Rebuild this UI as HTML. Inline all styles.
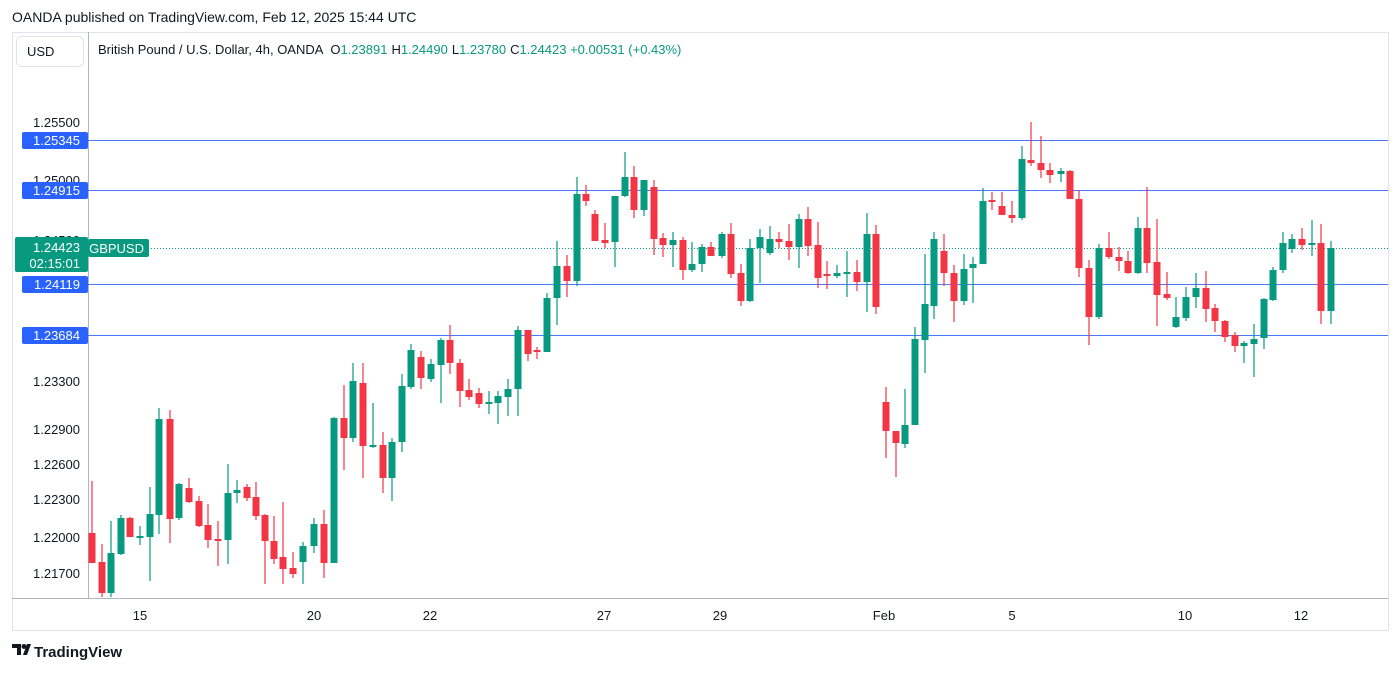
<!DOCTYPE html>
<html><head><meta charset="utf-8"><style>
html,body{margin:0;padding:0;background:#fff;}
body{width:1400px;height:672px;overflow:hidden;font-family:"Liberation Sans",sans-serif;}
</style></head><body>
<svg width="1400" height="672" viewBox="0 0 1400 672" xmlns="http://www.w3.org/2000/svg" font-family="Liberation Sans, sans-serif">
<rect width="1400" height="672" fill="#fff"/>
<text x="12" y="22" font-size="14" fill="#131722">OANDA published on TradingView.com, Feb 12, 2025 15:44 UTC</text>
<rect x="12.5" y="32.5" width="1376" height="598" fill="none" stroke="#e0e3eb"/>
<line x1="88.5" y1="32" x2="88.5" y2="598" stroke="#b2b5be"/>
<line x1="12" y1="598.5" x2="1388" y2="598.5" stroke="#b2b5be"/>
<rect x="16.5" y="36.5" width="67" height="30" rx="5" fill="#fff" stroke="#e0e3eb"/>
<text x="27" y="56" font-size="13" fill="#131722">USD</text>
<text x="98" y="54" font-size="13" fill="#131722">British Pound / U.S. Dollar, 4h, OANDA <tspan dx="4">O</tspan><tspan fill="#089981">1.23891</tspan><tspan dx="4">H</tspan><tspan fill="#089981">1.24490</tspan><tspan dx="4">L</tspan><tspan fill="#089981">1.23780</tspan><tspan dx="4">C</tspan><tspan fill="#089981">1.24423 +0.00531 (+0.43%)</tspan></text>
<g font-size="13" fill="#131722" text-anchor="end">
<text x="80" y="127">1.25500</text>
<text x="80" y="185">1.25000</text>
<text x="80" y="245">1.24500</text>
<text x="80" y="386">1.23300</text>
<text x="80" y="434">1.22900</text>
<text x="80" y="469">1.22600</text>
<text x="80" y="504">1.22300</text>
<text x="80" y="542">1.22000</text>
<text x="80" y="578">1.21700</text>
</g>
<g stroke="#2962ff" stroke-width="1" opacity="0.85">
<line x1="88" y1="140.5" x2="1388" y2="140.5"/>
<line x1="88" y1="190.5" x2="1388" y2="190.5"/>
<line x1="88" y1="284.5" x2="1388" y2="284.5"/>
<line x1="88" y1="335.5" x2="1388" y2="335.5"/>
</g>
<line x1="88" y1="248.5" x2="1388" y2="248.5" stroke="#089981" stroke-dasharray="1,2"/>
<g font-size="13" fill="#fff" text-anchor="end">
<rect x="22" y="132" width="66" height="17" rx="2" fill="#2962ff"/><text x="80" y="145">1.25345</text>
<rect x="22" y="182" width="66" height="17" rx="2" fill="#2962ff"/><text x="80" y="195">1.24915</text>
<rect x="22" y="276" width="66" height="17" rx="2" fill="#2962ff"/><text x="80" y="289">1.24119</text>
<rect x="22" y="327" width="66" height="17" rx="2" fill="#2962ff"/><text x="80" y="340">1.23684</text>
<rect x="15" y="237" width="73" height="35" rx="2" fill="#089981"/><text x="80" y="252">1.24423</text><text x="80" y="268">02:15:01</text>
<rect x="88" y="239" width="61" height="18" rx="2" fill="#089981"/><text x="144" y="253" text-anchor="end">GBPUSD</text>
</g>
<g font-size="13" fill="#131722" text-anchor="middle">
<text x="140" y="620">15</text><text x="314" y="620">20</text><text x="430" y="620">22</text>
<text x="604" y="620">27</text><text x="720" y="620">29</text><text x="884" y="620">Feb</text>
<text x="1012" y="620">5</text><text x="1185" y="620">10</text><text x="1301" y="620">12</text>
</g>
<path stroke="#089981" stroke-width="1.2" fill="none" d="M111 521V597M121 515V555M140 526V545M150 487V581M159 408V534M179 483V520M228 464V564M237 480V503M303 542V584M314 518V553M334 417V563M353 363V442M373 403V448M392 438V501M402 374V452M411 344V389M431 359V382M441 338V403M489 391V414M498 391V424M508 379V416M518 326V416M547 293V352M557 241V325M577 177V286M615 196V267M625 152V197M644 180V216M673 232V267M692 242V272M702 244V272M722 232V258M750 239V302M760 229V283M770 226V255M799 214V268M837 265V278M847 251V297M867 213V312M905 389V448M915 327V425M925 254V373M934 232V319M964 254V305M973 257V303M983 188V264M1022 146V220M1061 168V182M1099 244V319M1138 217V274M1176 297V328M1186 287V321M1196 273V308M1244 341V363M1254 324V377M1264 298V349M1273 267V301M1283 232V273M1292 234V253M1312 220V256M1331 241V324"/>
<path stroke="#089981" stroke-width="7" fill="none" d="M111 553V593M121 518V554M140 536V538M150 514V537M159 419V515M179 484V518M228 493V540M237 490V493M303 546V562M314 524V546M334 418V563M353 381V438M373 445V447M392 442V478M402 386V442M411 350V387M431 364V379M441 340V365M489 402V404M498 396V403M508 389V397M518 330V389M547 298V352M557 266V298M577 194V281M615 196V242M625 177V196M644 180V210M673 240V245M692 264V270M702 247V264M722 234V256M750 248V301M760 237V248M770 239V253M799 219V247M837 273V276M847 272V274M867 234V282M905 425V444M915 339V425M925 304V340M934 239V306M964 269V301M973 264V268M983 201V264M1022 159V218M1061 171V174M1099 248V317M1138 228V273M1176 317V327M1186 297V318M1196 288V297M1244 343V346M1254 339V344M1264 299V338M1273 270V300M1283 243V270M1292 239V249M1312 243V245M1331 248V311"/>
<path stroke="#f23645" stroke-width="1.2" fill="none" d="M92 481V563M102 544V597M130 517V537M170 410V543M189 478V503M199 496V527M208 504V548M218 521V566M247 484V501M256 482V520M265 514V584M274 516V564M283 502V584M293 552V578M324 510V578M344 385V470M363 363V478M383 432V493M421 351V389M450 325V374M460 359V407M469 379V400M479 388V408M528 330V361M537 347V359M567 255V297M586 185V206M595 210V241M605 223V248M634 166V218M654 180V255M663 233V257M683 237V280M711 242V256M731 223V278M741 264V306M779 232V248M789 224V260M808 207V256M818 222V288M827 261V289M857 260V291M876 225V314M886 387V458M896 431V477M944 234V286M954 265V322M992 192V210M1002 192V215M1012 201V223M1031 122V166M1041 136V178M1050 163V183M1070 170V199M1079 190V277M1089 260V345M1109 232V259M1119 247V271M1128 251V274M1147 187V273M1157 219V326M1167 272V300M1206 271V322M1215 304V332M1225 320V342M1235 332V352M1302 228V250M1321 224V324"/>
<path stroke="#f23645" stroke-width="7" fill="none" d="M92 533V563M102 562V593M130 518V537M170 419V519M189 488V502M199 501V526M208 525V540M218 539V541M247 487V498M256 497V516M265 515V541M274 541V559M283 557V569M293 568V574M324 524V563M344 418V438M363 383V446M383 445V478M421 357V378M450 340V363M460 363V391M469 390V397M479 393V404M528 330V354M537 350V352M567 266V281M586 194V201M595 214V241M605 240V243M634 177V210M654 187V239M663 238V245M683 240V270M711 247V256M731 234V274M741 273V301M779 239V242M789 241V247M808 219V246M818 245V278M827 274V276M857 272V282M876 234V307M886 402V431M896 431V443M944 251V273M954 273V301M992 200V202M1002 206V215M1012 215V218M1031 160V163M1041 163V170M1050 170V175M1070 171V199M1079 199V268M1089 268V317M1109 248V257M1119 257V261M1128 261V273M1147 228V263M1157 262V295M1167 294V298M1206 288V309M1215 308V321M1225 321V337M1235 335V346M1302 239V245M1321 243V311"/>
<g transform="translate(12,644)">
<path d="M0 0H9V11H5V4H0Z" fill="#131722"/><circle cx="12" cy="2.5" r="2.5" fill="#131722"/><path d="M11 11L15 0H19L15 11Z" fill="#131722"/>
</g>
<text x="34" y="657" font-size="15" font-weight="bold" fill="#131722">TradingView</text>
</svg>
</body></html>
